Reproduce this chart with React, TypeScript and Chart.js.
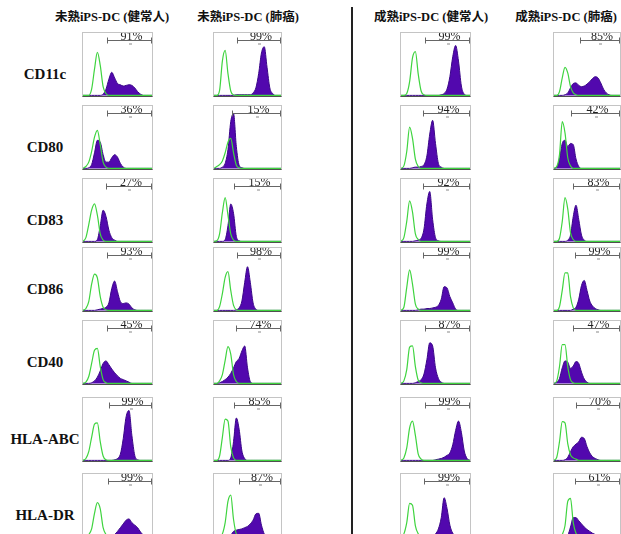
import React, { useEffect, useRef } from 'react';
import { Chart, registerables } from 'chart.js';

Chart.register(...registerables);

// ---- categories ----
const groups = ['未熟iPS-DC (健常人)', '未熟iPS-DC (肺癌)', '成熟iPS-DC (健常人)', '成熟iPS-DC (肺癌)'];
const markers = ['CD11c', 'CD80', 'CD83', 'CD86', 'CD40', 'HLA-ABC', 'HLA-DR'];
const bins = [0, 1, 2, 3, 4, 5, 6, 7, 8, 9, 10, 11, 12, 13, 14, 15, 16, 17, 18, 19, 20, 21, 22, 23, 24];

// ---- gate percentages (per marker, per group) ----
const percents = [
  [91, 99, 99, 85],
  [36, 15, 94, 42],
  [27, 15, 92, 83],
  [93, 98, 99, 99],
  [45, 74, 87, 47],
  [99, 85, 99, 70],
  [99, 87, 99, 61],
];
// gate start (bin) per marker, per group
const gateStarts = [
  [8.2, 8.2, 8.3, 9.3],
  [8.4, 6.6, 7.5, 6.3],
  [7.9, 7.0, 7.7, 6.8],
  [8.4, 8.3, 7.5, 7.8],
  [8.4, 8.0, 8.3, 7.0],
  [9.0, 7.2, 8.5, 8.1],
  [8.7, 9.1, 8.1, 7.5],
];
const gateEnd = 23.6;
const gateLevel = 88;

// ---- isotype control (green) histograms ----
const cd11cIso = [
  [0, 0, 0, 10, 42, 69, 48, 14, 3, 0, 0, 0, 0, 0, 0, 0, 0, 0, 0, 0, 0, 0, 0, 0, 0],
  [0, 0, 8, 55, 72, 35, 7, 1, 0, 0, 0, 0, 0, 0, 0, 0, 0, 0, 0, 0, 0, 0, 0, 0, 0],
  [0, 0, 3, 22, 60, 70, 34, 7, 1, 0, 0, 0, 0, 0, 0, 0, 0, 0, 0, 0, 0, 0, 0, 0, 0],
  [0, 0, 6, 28, 45, 36, 14, 4, 1, 0, 0, 0, 0, 0, 0, 0, 0, 0, 0, 0, 0, 0, 0, 0, 0],
];
const cd80Iso = [
  [0, 3, 10, 27, 50, 61, 38, 10, 2, 0, 0, 0, 0, 0, 0, 0, 0, 0, 0, 0, 0, 0, 0, 0, 0],
  [0, 3, 6, 12, 25, 42, 48, 25, 5, 1, 0, 0, 0, 0, 0, 0, 0, 0, 0, 0, 0, 0, 0, 0, 0],
  [0, 4, 27, 66, 48, 15, 3, 0, 0, 0, 0, 0, 0, 0, 0, 0, 0, 0, 0, 0, 0, 0, 0, 0, 0],
  [0, 3, 22, 75, 57, 17, 4, 0, 0, 0, 0, 0, 0, 0, 0, 0, 0, 0, 0, 0, 0, 0, 0, 0, 0],
];
const cd83Iso = [
  [0, 6, 27, 50, 60, 42, 12, 2, 0, 0, 0, 0, 0, 0, 0, 0, 0, 0, 0, 0, 0, 0, 0, 0, 0],
  [0, 1, 12, 46, 70, 42, 12, 2, 0, 0, 0, 0, 0, 0, 0, 0, 0, 0, 0, 0, 0, 0, 0, 0, 0],
  [0, 6, 32, 65, 47, 12, 3, 0, 0, 0, 0, 0, 0, 0, 0, 0, 0, 0, 0, 0, 0, 0, 0, 0, 0],
  [0, 0, 5, 32, 70, 52, 14, 3, 0, 0, 0, 0, 0, 0, 0, 0, 0, 0, 0, 0, 0, 0, 0, 0, 0],
];
const cd86Iso = [
  [0, 3, 14, 42, 58, 52, 22, 5, 1, 0, 0, 0, 0, 0, 0, 0, 0, 0, 0, 0, 0, 0, 0, 0, 0],
  [0, 0, 6, 27, 53, 62, 32, 8, 1, 0, 0, 0, 0, 0, 0, 0, 0, 0, 0, 0, 0, 0, 0, 0, 0],
  [0, 5, 37, 65, 42, 10, 2, 0, 0, 0, 0, 0, 0, 0, 0, 0, 0, 0, 0, 0, 0, 0, 0, 0, 0],
  [0, 0, 6, 32, 60, 60, 22, 4, 0, 0, 0, 0, 0, 0, 0, 0, 0, 0, 0, 0, 0, 0, 0, 0, 0],
];
const cd40Iso = [
  [0, 2, 11, 32, 53, 56, 27, 6, 1, 0, 0, 0, 0, 0, 0, 0, 0, 0, 0, 0, 0, 0, 0, 0, 0],
  [0, 0, 4, 14, 37, 59, 47, 14, 3, 0, 0, 0, 0, 0, 0, 0, 0, 0, 0, 0, 0, 0, 0, 0, 0],
  [0, 4, 22, 58, 60, 27, 5, 1, 0, 0, 0, 0, 0, 0, 0, 0, 0, 0, 0, 0, 0, 0, 0, 0, 0],
  [0, 4, 27, 62, 62, 27, 6, 1, 0, 0, 0, 0, 0, 0, 0, 0, 0, 0, 0, 0, 0, 0, 0, 0, 0],
];
const hlaAbcIso = [
  [0, 3, 14, 37, 58, 60, 30, 7, 1, 0, 0, 0, 0, 0, 0, 0, 0, 0, 0, 0, 0, 0, 0, 0, 0],
  [0, 0, 7, 37, 66, 63, 22, 4, 0, 0, 0, 0, 0, 0, 0, 0, 0, 0, 0, 0, 0, 0, 0, 0, 0],
  [0, 4, 20, 52, 63, 40, 10, 2, 0, 0, 0, 0, 0, 0, 0, 0, 0, 0, 0, 0, 0, 0, 0, 0, 0],
  [0, 5, 30, 62, 60, 27, 9, 4, 2, 0, 0, 0, 0, 0, 0, 0, 0, 0, 0, 0, 0, 0, 0, 0, 0],
];
const hlaDrIso = [
  [0, 0, 3, 12, 37, 54, 44, 14, 3, 0, 0, 0, 0, 0, 0, 0, 0, 0, 0, 0, 0, 0, 0, 0, 0],
  [0, 0, 0, 4, 22, 56, 66, 27, 4, 0, 0, 0, 0, 0, 0, 0, 0, 0, 0, 0, 0, 0, 0, 0, 0],
  [0, 4, 22, 53, 50, 17, 4, 0, 0, 0, 0, 0, 0, 0, 0, 0, 0, 0, 0, 0, 0, 0, 0, 0, 0],
  [0, 0, 0, 3, 17, 56, 61, 22, 5, 0, 0, 0, 0, 0, 0, 0, 0, 0, 0, 0, 0, 0, 0, 0, 0],
];

// ---- stained (purple) histograms ----
const cd11cStain = [
  [0, 0, 0, 0, 0, 0, 0, 2, 10, 26, 37, 28, 19, 17, 15, 16, 17, 16, 12, 6, 2, 0, 0, 0, 0],
  [0, 0, 0, 0, 0, 0, 0, 0, 1, 1, 1, 1, 1, 1, 4, 12, 35, 68, 78, 45, 12, 3, 0, 0, 0],
  [0, 0, 0, 0, 0, 0, 0, 0, 0, 0, 0, 0, 0, 0, 1, 3, 10, 30, 62, 80, 55, 15, 2, 0, 0],
  [0, 0, 0, 0, 1, 4, 12, 19, 20, 16, 14, 15, 18, 22, 27, 30, 28, 20, 10, 4, 1, 0, 0, 0, 0],
];
const cd80Stain = [
  [0, 0, 1, 6, 25, 45, 42, 22, 10, 10, 17, 22, 18, 8, 2, 0, 0, 0, 0, 0, 0, 0, 0, 0, 0],
  [0, 0, 0, 2, 8, 30, 75, 88, 35, 5, 1, 0, 0, 0, 0, 0, 0, 0, 0, 0, 0, 0, 0, 0, 0],
  [0, 0, 0, 0, 1, 2, 2, 3, 6, 20, 55, 77, 40, 8, 2, 0, 0, 0, 0, 0, 0, 0, 0, 0, 0],
  [0, 2, 15, 40, 45, 35, 40, 38, 15, 3, 0, 0, 0, 0, 0, 0, 0, 0, 0, 0, 0, 0, 0, 0, 0],
];
const cd83Stain = [
  [0, 0, 0, 0, 0, 3, 25, 50, 40, 18, 6, 2, 0, 0, 0, 0, 0, 0, 0, 0, 0, 0, 0, 0, 0],
  [0, 0, 0, 0, 3, 25, 60, 45, 8, 1, 0, 0, 0, 0, 0, 0, 0, 0, 0, 0, 0, 0, 0, 0, 0],
  [0, 0, 0, 0, 0, 1, 2, 5, 20, 60, 80, 35, 6, 1, 0, 0, 0, 0, 0, 0, 0, 0, 0, 0, 0],
  [0, 0, 0, 0, 0, 2, 10, 40, 58, 35, 10, 2, 0, 0, 0, 0, 0, 0, 0, 0, 0, 0, 0, 0, 0],
];
const cd86Stain = [
  [0, 0, 0, 0, 0, 1, 2, 3, 5, 12, 35, 47, 30, 14, 11, 12, 10, 4, 1, 0, 0, 0, 0, 0, 0],
  [0, 0, 0, 0, 0, 0, 0, 0, 1, 4, 15, 45, 70, 45, 12, 2, 0, 0, 0, 0, 0, 0, 0, 0, 0],
  [0, 0, 0, 0, 0, 0, 1, 2, 2, 3, 3, 4, 5, 8, 18, 38, 36, 22, 12, 2, 0, 0, 0, 0, 0],
  [0, 0, 0, 0, 0, 0, 0, 2, 5, 18, 40, 48, 32, 15, 7, 3, 1, 0, 0, 0, 0, 0, 0, 0, 0],
];
const cd40Stain = [
  [0, 0, 0, 1, 4, 10, 20, 32, 36, 30, 23, 17, 12, 8, 6, 4, 2, 0, 0, 0, 0, 0, 0, 0, 0],
  [0, 0, 1, 3, 6, 10, 16, 25, 35, 40, 52, 60, 25, 3, 0, 0, 0, 0, 0, 0, 0, 0, 0, 0, 0],
  [0, 0, 0, 0, 0, 1, 3, 6, 15, 38, 65, 60, 25, 8, 2, 0, 0, 0, 0, 0, 0, 0, 0, 0, 0],
  [0, 2, 8, 25, 36, 34, 24, 28, 35, 32, 18, 7, 2, 0, 0, 0, 0, 0, 0, 0, 0, 0, 0, 0, 0],
];
const hlaAbcStain = [
  [0, 0, 0, 0, 0, 0, 0, 0, 0, 0, 0, 1, 3, 10, 35, 70, 80, 40, 8, 1, 0, 0, 0, 0, 0],
  [0, 0, 0, 0, 0, 0, 4, 30, 68, 50, 15, 3, 0, 0, 0, 0, 0, 0, 0, 0, 0, 0, 0, 0, 0],
  [0, 0, 0, 0, 0, 0, 0, 0, 0, 0, 0, 0, 1, 2, 3, 5, 8, 12, 25, 48, 63, 45, 15, 3, 0],
  [0, 0, 0, 0, 1, 5, 14, 22, 26, 30, 37, 35, 22, 12, 6, 3, 1, 0, 0, 0, 0, 0, 0, 0, 0],
];
const hlaDrStain = [
  [0, 0, 0, 0, 0, 0, 0, 0, 0, 0, 1, 3, 8, 14, 20, 26, 28, 22, 18, 14, 7, 2, 0, 0, 0],
  [0, 0, 0, 0, 0, 0, 2, 8, 10, 11, 12, 14, 16, 20, 26, 36, 37, 18, 4, 1, 0, 0, 0, 0, 0],
  [0, 0, 0, 0, 0, 0, 0, 0, 0, 0, 0, 1, 4, 12, 30, 62, 45, 18, 5, 1, 0, 0, 0, 0, 0],
  [0, 0, 0, 0, 0, 2, 15, 30, 30, 25, 20, 15, 11, 8, 5, 3, 1, 0, 0, 0, 0, 0, 0, 0, 0],
];

const isoByMarker = [cd11cIso, cd80Iso, cd83Iso, cd86Iso, cd40Iso, hlaAbcIso, hlaDrIso];
const stainByMarker = [cd11cStain, cd80Stain, cd83Stain, cd86Stain, cd40Stain, hlaAbcStain, hlaDrStain];

// ---- layout ----
const colLeft = [82, 213, 400, 553];
const colWidth = [71, 69, 71, 68];
const rowTop = [32, 105, 178, 247, 320, 397, 473];
const panelH = 65;
const headerCenter = [112, 248, 431, 566];

const PURPLE = '#5208ae';
const PURPLE_EDGE = '#3a0688';
const GREEN = '#3fd43f';

const gatePlugin = {
  id: 'gate',
  afterDatasetsDraw(chart: any, _args: any, opts: any) {
    const { ctx } = chart;
    const x = chart.scales.x;
    const y = chart.scales.y;
    const x0 = Math.round(x.getPixelForValue(opts.start)) + 0.5;
    const x1 = Math.round(x.getPixelForValue(opts.end)) + 0.5;
    const yy = Math.round(y.getPixelForValue(opts.level)) + 0.5;
    ctx.save();
    ctx.strokeStyle = '#666';
    ctx.lineWidth = 1;
    ctx.beginPath();
    ctx.moveTo(x0, yy);
    ctx.lineTo(x1, yy);
    ctx.moveTo(x0, yy - 3);
    ctx.lineTo(x0, yy + 3);
    ctx.moveTo(x1, yy - 3);
    ctx.lineTo(x1, yy + 3);
    ctx.stroke();
    ctx.fillStyle = '#888';
    ctx.fillRect(Math.round((x0 + x1) / 2) - 1, yy + 3, 3, 1);
    ctx.font = '12px "Liberation Serif", serif';
    ctx.textAlign = 'center';
    ctx.textBaseline = 'bottom';
    ctx.fillStyle = '#222';
    ctx.fillText(opts.text, (x0 + x1) / 2 + 2, yy + 2);
    ctx.restore();
  },
};

function Panel({ r, c }: { r: number; c: number }) {
  const ref = useRef<HTMLCanvasElement | null>(null);
  const w = colWidth[c];
  useEffect(() => {
    if (!ref.current) return;
    const iso = isoByMarker[r][c];
    const stain = stainByMarker[r][c];
    const chart = new Chart(ref.current, {
      type: 'line',
      data: {
        datasets: [
          {
            data: bins.map((b, i) => ({ x: b, y: iso[i] })),
            borderColor: GREEN,
            borderWidth: 1.2,
            fill: false,
            pointRadius: 0,
            cubicInterpolationMode: 'monotone',
          },
          {
            data: bins.map((b, i) => ({ x: b, y: stain[i] })),
            borderColor: PURPLE_EDGE,
            backgroundColor: PURPLE,
            borderWidth: 1,
            fill: 'origin',
            pointRadius: 0,
            cubicInterpolationMode: 'monotone',
          },
        ],
      } as any,
      options: {
        animation: false,
        responsive: false,
        maintainAspectRatio: false,
        devicePixelRatio: 1,
        layout: { padding: 0 },
        events: [],
        plugins: {
          legend: { display: false },
          tooltip: { enabled: false },
          gate: { start: gateStarts[r][c], end: gateEnd, level: gateLevel, text: percents[r][c] + '%' },
        } as any,
        scales: {
          x: { type: 'linear', min: 0, max: 24, display: false },
          y: { min: -1, max: 100, display: false },
        },
      },
      plugins: [gatePlugin as any],
    });
    return () => chart.destroy();
  }, [r, c]);
  return (
    <div
      style={{
        position: 'absolute',
        left: colLeft[c],
        top: rowTop[r],
        width: w,
        height: panelH,
        boxSizing: 'border-box',
        border: '1px solid #c4c4c4',
        borderBottom: '1px solid #505050',
        background: '#fff',
      }}
    >
      <canvas ref={ref} width={w - 2} height={panelH - 2} style={{ display: 'block' }} />
    </div>
  );
}

export default function App() {
  return (
    <div
      style={{
        position: 'absolute',
        left: 0,
        top: 0,
        width: 621,
        height: 534,
        overflow: 'hidden',
        background: '#fff',
      }}
    >
      {groups.map((g, c) => (
        <div
          key={g}
          style={{
            position: 'absolute',
            left: headerCenter[c] - 70,
            width: 140,
            top: 9,
            textAlign: 'center',
            fontFamily: '"Liberation Serif", "Noto Sans CJK JP", serif',
            fontWeight: 'bold',
            fontSize: 12.5,
            lineHeight: '16px',
            whiteSpace: 'nowrap',
            color: '#111',
          }}
        >
          {g}
        </div>
      ))}
      {markers.map((m, r) => (
        <div
          key={m}
          style={{
            position: 'absolute',
            left: 0,
            width: 90,
            top: rowTop[r] + 32,
            textAlign: 'center',
            fontFamily: '"Liberation Serif", serif',
            fontWeight: 'bold',
            fontSize: 15,
            lineHeight: '20px',
            whiteSpace: 'nowrap',
            color: '#111',
          }}
        >
          {m}
        </div>
      ))}
      <div
        style={{
          position: 'absolute',
          left: 351,
          top: 7,
          width: 2,
          height: 540,
          background: '#222',
        }}
      />
      {markers.map((m, r) =>
        groups.map((g, c) => <Panel key={m + g} r={r} c={c} />)
      )}
    </div>
  );
}
